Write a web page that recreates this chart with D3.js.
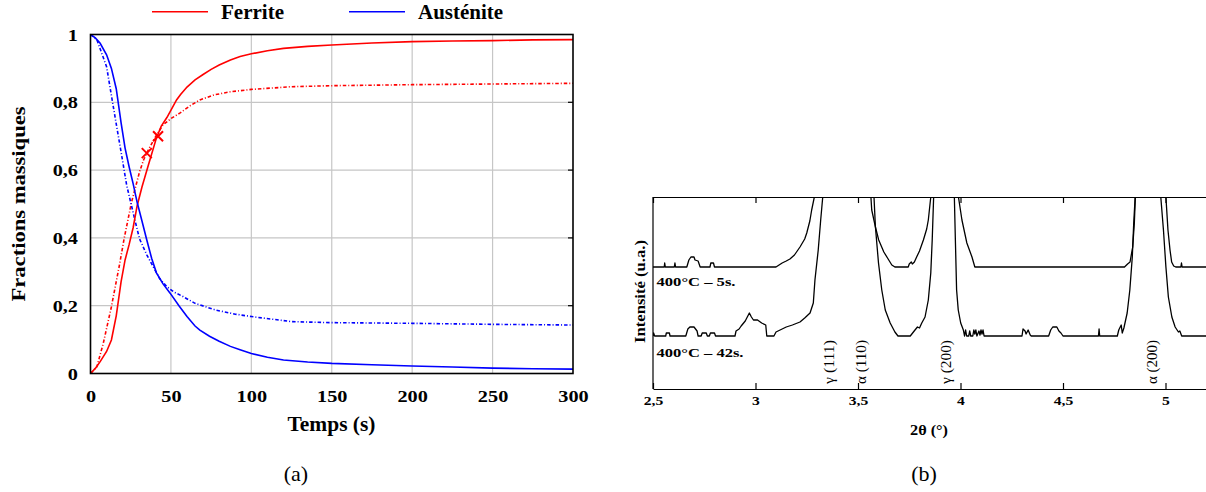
<!DOCTYPE html>
<html><head><meta charset="utf-8">
<script src="https://cdn.jsdelivr.net/npm/d3@7"></script>
<style>
body{margin:0;background:#fff}
svg{display:block}
text{font-family:"Liberation Serif","Times New Roman",serif;fill:#000}
</style>
</head><body>
<svg id="c" width="1206" height="492"></svg>
<script>
// ---------- Data: (a) mass fractions vs time ----------
const timeTicks = [0, 50, 100, 150, 200, 250, 300];
const fracTicks = [0, 0.2, 0.4, 0.6, 0.8, 1];
const legendNames = ["Ferrite", "Austénite"];

// experimental (solid)
const ferriteExp = [[0,0],[3,0.015],[6,0.035],[10,0.065],[13,0.099],[16,0.17],[19,0.27],[21.5,0.335],[24,0.38],[26.5,0.43],[29,0.495],[32,0.55],[36,0.615],[41,0.695],[44,0.73],[47.5,0.755],[53.5,0.807],[56,0.823],[60,0.845],[65,0.866],[70,0.882],[75,0.897],[80,0.91],[87,0.925],[93,0.935],[100,0.943],[110,0.952],[120,0.959],[135,0.965],[150,0.969],[175,0.975],[200,0.979],[225,0.981],[250,0.982],[275,0.984],[300,0.985]];
const austeniteExp = [[0,1],[3,0.99],[6,0.974],[10,0.94],[13,0.9],[16,0.84],[19,0.74],[21.5,0.665],[24,0.61],[26.5,0.56],[29,0.505],[32,0.45],[35,0.394],[38,0.34],[41,0.297],[45,0.265],[49.5,0.237],[55,0.2],[60,0.168],[65,0.14],[68,0.128],[74,0.11],[80,0.095],[87,0.08],[93,0.07],[100,0.059],[110,0.048],[120,0.04],[135,0.034],[150,0.03],[175,0.026],[200,0.022],[225,0.019],[250,0.016],[275,0.014],[300,0.013]];
// model (dash-dot)
const ferriteModel = [[0,0],[4,0.02],[8,0.09],[13,0.197],[18,0.32],[21,0.4],[24,0.47],[25.5,0.505],[28,0.55],[30.5,0.595],[33,0.63],[36,0.66],[40,0.695],[45,0.733],[50,0.752],[55.5,0.768],[62,0.79],[68,0.807],[77,0.822],[87,0.831],[100,0.838],[125,0.846],[150,0.849],[200,0.852],[250,0.854],[300,0.856]];
const austeniteModel = [[0,1],[4,0.984],[10,0.905],[13,0.82],[16.3,0.728],[19.5,0.64],[22.5,0.555],[25.5,0.495],[28,0.445],[30.5,0.397],[35,0.35],[39,0.315],[43,0.28],[47.5,0.256],[52,0.24],[57.5,0.227],[65,0.207],[78,0.187],[90,0.175],[100,0.168],[125,0.153],[150,0.15],[200,0.148],[250,0.145],[300,0.143]];
// measured points (crosses)
const ferritePoints = [[35,0.65],[42,0.70]];

// ---------- Data: (b) diffraction patterns (2θ, intensity a.u.) ----------
const thetaTicks = [2.5, 3, 3.5, 4, 4.5, 5];
const sampleLabels = ["400°C – 5s.", "400°C – 42s."];
const peakLabels = ["γ (111)", "α (110)", "γ (200)", "α (200)"];
const xrd5s = [[2.5,122],[2.555,122],[2.557,126],[2.56,122],[2.604,122],[2.607,126],[2.61,122],[2.665,122],[2.675,129],[2.685,132],[2.70,132],[2.705,129],[2.72,128],[2.73,122],[2.778,122],[2.782,126],[2.795,126],[2.80,122],[3.10,122],[3.13,126],[3.15,128],[3.168,130],[3.19,134],[3.217,142],[3.24,150],[3.25,156],[3.265,168],[3.274,179],[3.287,192],[3.293,240],[3.31,300],[3.45,300],[3.545,300],[3.557,240],[3.563,192],[3.567,179],[3.585,162],[3.601,149],[3.626,137],[3.65,129],[3.665,124],[3.68,122],[3.745,122],[3.75,125],[3.76,127],[3.765,125],[3.775,127],[3.786,132],[3.80,138],[3.819,149],[3.835,160],[3.843,169],[3.855,192],[3.86,240],[3.92,300],[3.985,240],[3.99,192],[4.007,169],[4.031,146],[4.056,132],[4.07,122],[4.80,122],[4.815,125],[4.827,127],[4.84,142],[4.848,166],[4.853,192],[4.858,240],[4.92,300],[4.995,240],[5.002,192],[5.012,159],[5.022,139],[5.03,127],[5.04,123],[5.05,122],[5.075,122],[5.078,126],[5.081,122],[5.2,122]];
const xrd42s = [[2.5,53],[2.503,56],[2.508,53],[2.562,53],[2.565,56],[2.58,56],[2.583,53],[2.66,53],[2.67,60],[2.68,62],[2.70,62],[2.715,58],[2.72,53],[2.735,53],[2.74,56],[2.76,56],[2.765,53],[2.775,53],[2.78,56],[2.80,56],[2.805,53],[2.90,53],[2.905,58],[2.92,60],[2.93,63],[2.95,68],[2.97,76],[2.98,72],[2.99,69],[3.01,69],[3.03,66],[3.05,64],[3.055,53],[3.09,53],[3.10,57],[3.12,59],[3.15,62],[3.18,64],[3.217,67],[3.24,71],[3.266,76],[3.282,86],[3.29,109],[3.306,139],[3.318,169],[3.328,192],[3.333,240],[3.40,300],[3.55,300],[3.572,240],[3.578,192],[3.585,162],[3.60,126],[3.616,99],[3.633,79],[3.657,66],[3.68,57],[3.695,53],[3.755,53],[3.778,59],[3.79,62],[3.80,61],[3.811,66],[3.827,72],[3.843,89],[3.855,116],[3.862,149],[3.869,192],[3.874,240],[3.92,300],[3.965,240],[3.97,192],[3.975,149],[3.981,99],[3.989,79],[4.001,66],[4.014,59],[4.02,53],[4.025,59],[4.03,53],[4.04,53],[4.045,58],[4.05,53],[4.06,53],[4.065,59],[4.07,55],[4.075,59],[4.08,53],[4.09,58],[4.095,54],[4.10,59],[4.105,55],[4.11,59],[4.115,53],[4.30,53],[4.305,60],[4.315,58],[4.32,55],[4.33,59],[4.34,54],[4.345,53],[4.43,53],[4.44,59],[4.45,62],[4.47,62],[4.48,58],[4.49,56],[4.50,53],[4.673,53],[4.676,60],[4.679,53],[4.765,53],[4.772,59],[4.784,64],[4.789,56],[4.797,61],[4.813,76],[4.826,99],[4.838,132],[4.845,166],[4.852,192],[4.857,240],[4.92,300],[4.972,240],[4.977,192],[4.99,159],[5.002,122],[5.014,92],[5.031,72],[5.047,62],[5.063,57],[5.07,58],[5.079,53],[5.2,53]];

// ---------- Drawing ----------
const svg = d3.select("#c");
const comma = d => String(d).replace(".", ",");
const SERIF = '"Liberation Serif","Times New Roman",serif';
const RED = "#ff0000", BLUE = "#0000ff";

// ===== Chart (a) =====
const xA = d3.scaleLinear().domain([0, 300]).range([90.5, 573]);
const yA = d3.scaleLinear().domain([0, 1]).range([373.5, 34.5]);
const gA = svg.append("g");

gA.selectAll("line.gx").data(timeTicks.slice(1, -1)).join("line")
  .attr("x1", d => xA(d)).attr("x2", d => xA(d))
  .attr("y1", yA(0)).attr("y2", yA(1))
  .attr("stroke", "#c6c6c6").attr("stroke-width", 1.2);
gA.selectAll("line.gy").data(fracTicks.slice(1, -1)).join("line")
  .attr("y1", d => yA(d)).attr("y2", d => yA(d))
  .attr("x1", xA(0)).attr("x2", xA(300))
  .attr("stroke", "#c6c6c6").attr("stroke-width", 1.2);
// inward ticks on right side
gA.selectAll("line.rt").data(fracTicks.slice(1, -1)).join("line")
  .attr("y1", d => yA(d)).attr("y2", d => yA(d))
  .attr("x1", xA(300) - 5).attr("x2", xA(300))
  .attr("stroke", "#000").attr("stroke-width", 1.2);

const line = d3.line().x(d => xA(d[0])).y(d => yA(d[1]));
const curves = [
  {data: ferriteModel, color: RED, dash: "3.5,2,1,2"},
  {data: austeniteModel, color: BLUE, dash: "3.5,2,1,2"},
  {data: ferriteExp, color: RED, dash: null},
  {data: austeniteExp, color: BLUE, dash: null}
];
gA.selectAll("path.curve").data(curves).join("path")
  .attr("d", d => line(d.data)).attr("fill", "none")
  .attr("stroke", d => d.color).attr("stroke-width", 1.6)
  .attr("stroke-dasharray", d => d.dash);

gA.selectAll("path.mk").data(ferritePoints).join("path")
  .attr("d", d => {
    const x = xA(d[0]), y = yA(d[1]), s = 5;
    return `M${x - s},${y - s}L${x + s},${y + s}M${x - s},${y + s}L${x + s},${y - s}`;
  })
  .attr("stroke", RED).attr("stroke-width", 2).attr("fill", "none");

gA.append("rect").attr("x", xA(0)).attr("y", yA(1))
  .attr("width", xA(300) - xA(0)).attr("height", yA(0) - yA(1))
  .attr("fill", "none").attr("stroke", "#000").attr("stroke-width", 1.6);

const styleAxisText = (g, size) => {
  g.attr("font-family", SERIF).attr("font-size", size).attr("font-weight", "bold");
  g.select(".domain").remove();
  g.selectAll(".tick line").remove();
};
gA.append("g").attr("transform", `translate(${xA(0)},0)`)
  .call(d3.axisLeft(yA).tickValues(fracTicks).tickFormat(comma).tickSize(0).tickPadding(12.5))
  .call(g => styleAxisText(g, 17.5))
  .call(g => g.selectAll("text").attr("x", -12.5 / 1.16).attr("transform", "scale(1.16,1)"));
gA.append("g").attr("transform", `translate(0,${yA(0)})`)
  .call(d3.axisBottom(xA).tickValues(timeTicks).tickFormat(comma).tickSize(0).tickPadding(16))
  .call(g => styleAxisText(g, 17.5))
  .call(g => g.selectAll("text").attr("transform", "scale(1.16,1)"));

gA.append("text").attr("x", 331.5).attr("y", 431).attr("text-anchor", "middle")
  .attr("font-size", 20).attr("font-weight", "bold")
  .attr("textLength", 88).attr("lengthAdjust", "spacingAndGlyphs").text("Temps (s)");
gA.append("text").attr("transform", "translate(24.5,204) rotate(-90)").attr("text-anchor", "middle")
  .attr("font-size", 19.5).attr("font-weight", "bold")
  .attr("textLength", 195).attr("lengthAdjust", "spacingAndGlyphs").text("Fractions massiques");

// legend
const legend = [
  {name: legendNames[0], color: RED, x: 152, len: 63},
  {name: legendNames[1], color: BLUE, x: 349, len: 85}
];
const lg = gA.selectAll("g.lg").data(legend).join("g");
lg.append("line").attr("x1", d => d.x).attr("x2", d => d.x + 56).attr("y1", 11.7).attr("y2", 11.7)
  .attr("stroke", d => d.color).attr("stroke-width", 1.6);
lg.append("text").attr("x", d => d.x + 69).attr("y", 18.5)
  .attr("font-size", 20).attr("font-weight", "bold")
  .attr("textLength", d => d.len).attr("lengthAdjust", "spacingAndGlyphs").text(d => d.name);

// ===== Chart (b) =====
const xB = d3.scaleLinear().domain([2.5, 5.2]).range([653, 1206.5]);
const yB = d3.scaleLinear().domain([0, 192]).range([389, 197]);
const gB = svg.append("g");
svg.append("defs").append("clipPath").attr("id", "clipB").append("rect")
  .attr("x", xB(2.5)).attr("y", yB(192)).attr("width", xB(5.2) - xB(2.5)).attr("height", yB(0) - yB(192));

const lineB = d3.line().x(d => xB(d[0])).y(d => yB(d[1]));
gB.append("g").attr("clip-path", "url(#clipB)")
  .selectAll("path").data([xrd5s, xrd42s]).join("path")
  .attr("d", d => lineB(d)).attr("fill", "none")
  .attr("stroke", "#000").attr("stroke-width", 1.3).attr("stroke-linejoin", "round");

const axB = gB.append("g").attr("transform", `translate(0,${yB(0)})`)
  .call(d3.axisBottom(xB).tickValues(thetaTicks).tickFormat(comma).tickSizeInner(-6).tickSizeOuter(0).tickPadding(6.5));
axB.attr("font-family", SERIF).attr("font-size", 13).attr("font-weight", "bold");
axB.selectAll("text").attr("transform", "scale(1.2,1)");
axB.selectAll("path,line").attr("stroke-width", 1.2);
const axT = gB.append("g").attr("transform", `translate(0,${yB(192)})`)
  .call(d3.axisTop(xB).tickValues(thetaTicks).tickFormat("").tickSizeInner(-6).tickSizeOuter(0));
axT.selectAll("path,line").attr("stroke-width", 1.2);
gB.append("line").attr("x1", xB(2.5)).attr("x2", xB(2.5)).attr("y1", yB(192)).attr("y2", yB(0))
  .attr("stroke", "#000").attr("stroke-width", 1.2);

// sample labels
const sl = [
  {t: sampleLabels[0], y: 285.7, len: 79},
  {t: sampleLabels[1], y: 356.7, len: 87}
];
gB.selectAll("text.sl").data(sl).join("text")
  .attr("x", 656.5).attr("y", d => d.y)
  .attr("font-size", 13.5).attr("font-weight", "bold")
  .attr("textLength", d => d.len).attr("lengthAdjust", "spacingAndGlyphs").text(d => d.t);

// peak labels (rotated)
const pl = [
  {t: peakLabels[0], x: 833.5},
  {t: peakLabels[1], x: 865.5},
  {t: peakLabels[2], x: 950.5},
  {t: peakLabels[3], x: 1156.5}
];
gB.selectAll("text.pl").data(pl).join("text")
  .attr("transform", d => `translate(${d.x},384) rotate(-90)`)
  .attr("font-size", 14.5)
  .attr("textLength", 44).attr("lengthAdjust", "spacingAndGlyphs").text(d => d.t);

gB.append("text").attr("transform", "translate(644.5,291.5) rotate(-90)").attr("text-anchor", "middle")
  .attr("font-size", 15).attr("font-weight", "bold")
  .attr("textLength", 103).attr("lengthAdjust", "spacingAndGlyphs").text("Intensité (u.a.)");
gB.append("text").attr("x", 929).attr("y", 435).attr("text-anchor", "middle")
  .attr("font-size", 14).attr("font-weight", "bold")
  .attr("textLength", 38).attr("lengthAdjust", "spacingAndGlyphs").text("2θ (°)");

// sub-captions
svg.append("text").attr("x", 296).attr("y", 481).attr("text-anchor", "middle").attr("font-size", 22).text("(a)");
svg.append("text").attr("x", 924).attr("y", 481).attr("text-anchor", "middle").attr("font-size", 22).text("(b)");
</script>
</body></html>
